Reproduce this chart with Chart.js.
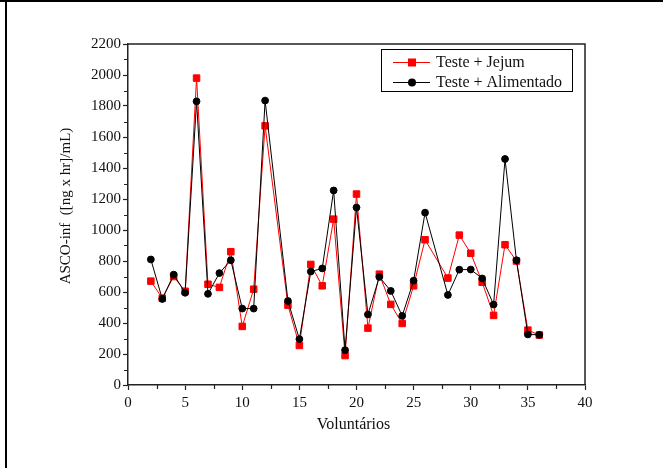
<!DOCTYPE html>
<html>
<head>
<meta charset="utf-8">
<script src="https://cdn.jsdelivr.net/npm/chart.js@4/dist/chart.umd.min.js"></script>
<style>
  html, body { margin: 0; padding: 0; background: #fff; }
  #wrap { width: 663px; height: 468px; position: relative; }
</style>
</head>
<body>
<div id="wrap"><canvas id="c" width="663" height="468"></canvas></div>
<script>
// Volunteers (x) and ASCO-inf values for the two conditions
const volunteers = [2, 3, 4, 5, 6, 7, 8, 9, 10, 11, 12, 14, 15, 16, 17, 18, 19, 20, 21, 22, 23, 24, 25, 26, 28, 29, 30, 31, 32, 33, 34, 35, 36];
const jejum = [670, 560, 700, 605, 1980, 650, 630, 860, 378, 618, 1672, 515, 255, 778, 640, 1070, 190, 1232, 367, 715, 520, 397, 640, 937, 690, 967, 850, 663, 449, 905, 800, 354, 322];
const alimentado = [810, 555, 712, 595, 1830, 588, 722, 805, 493, 493, 1835, 542, 296, 732, 752, 1255, 225, 1145, 455, 697, 607, 446, 673, 1112, 581, 744, 745, 687, 519, 1458, 805, 326, 324];

const seriesNames = ['Teste + Jejum', 'Teste + Alimentado'];
const xTitle = 'Voluntários';
const yTitle = 'ASCO-inf  ([ng x hr]/mL)';
const xMinorTicks = [2.5, 7.5, 12.5, 17.5, 22.5, 27.5, 32.5, 37.5];
const yMinorTicks = [100, 300, 500, 700, 900, 1100, 1300, 1500, 1700, 1900, 2100];

const FONT = '"Liberation Serif", "Times New Roman", serif';
const AXIS = '#222';

const toPoints = (vals) => volunteers.map((v, i) => ({ x: v, y: vals[i] }));

const frame = {
  id: 'frame',
  beforeDraw(chart) {
    const ctx = chart.ctx;
    ctx.save();
    ctx.fillStyle = '#fff';
    ctx.fillRect(0, 0, chart.width, chart.height);
    // page border (left and top)
    ctx.fillStyle = '#000';
    ctx.fillRect(5, 0, 2, chart.height);
    ctx.fillRect(0, 0, chart.width, 2);
    ctx.restore();
  },
  afterDraw(chart) {
    const ctx = chart.ctx;
    const a = chart.chartArea;
    const xs = chart.scales.x, ys = chart.scales.y;
    ctx.save();
    // top and right edges of the plot box
    ctx.strokeStyle = AXIS;
    ctx.lineWidth = 1.5;
    ctx.beginPath();
    ctx.moveTo(a.left, a.top);
    ctx.lineTo(a.right, a.top);
    ctx.lineTo(a.right, a.bottom);
    ctx.stroke();
    // minor ticks
    ctx.lineWidth = 1.2;
    ctx.beginPath();
    xMinorTicks.forEach(v => {
      const px = Math.round(xs.getPixelForValue(v)) + 0.5;
      ctx.moveTo(px, a.bottom);
      ctx.lineTo(px, a.bottom + 4);
    });
    yMinorTicks.forEach(v => {
      const py = Math.round(ys.getPixelForValue(v)) + 0.5;
      ctx.moveTo(a.left, py);
      ctx.lineTo(a.left - 4, py);
    });
    ctx.stroke();

    // axis titles
    ctx.fillStyle = '#111';
    ctx.textAlign = 'center';
    ctx.textBaseline = 'middle';
    ctx.font = '16px ' + FONT;
    ctx.fillText(xTitle, (a.left + a.right) / 2 - 3, 425);
    ctx.save();
    ctx.translate(66, 206);
    ctx.rotate(-Math.PI / 2);
    ctx.font = '15px ' + FONT;
    ctx.fillText(yTitle, 0, 0);
    ctx.restore();

    // legend
    const lx = 381.5, ly = 49.5, lw = 191, lh = 42;
    ctx.strokeStyle = '#000';
    ctx.lineWidth = 1;
    ctx.strokeRect(lx, ly, lw, lh);
    const rows = [62, 82];
    chart.data.datasets.forEach((ds, i) => {
      const y = rows[i];
      ctx.strokeStyle = ds.borderColor;
      ctx.lineWidth = 1;
      ctx.beginPath();
      ctx.moveTo(393, y + 0.5);
      ctx.lineTo(430, y + 0.5);
      ctx.stroke();
      ctx.fillStyle = ds.pointBackgroundColor;
      if (ds.pointStyle === 'rect') {
        ctx.fillRect(412 - 4, y - 3.5, 8, 8);
      } else {
        ctx.beginPath();
        ctx.arc(412, y + 0.5, 4, 0, Math.PI * 2);
        ctx.fill();
      }
      ctx.fillStyle = '#111';
      ctx.textAlign = 'left';
      ctx.textBaseline = 'middle';
      ctx.font = '16px ' + FONT;
      ctx.fillText(ds.label, 436, y + 1);
    });
    ctx.restore();
  }
};

const plainTick = (value) => String(value);

new Chart(document.getElementById('c'), {
  type: 'line',
  data: {
    datasets: [
      {
        label: seriesNames[0],
        data: toPoints(jejum),
        borderColor: '#ff0000',
        backgroundColor: '#ff0000',
        pointBackgroundColor: '#ff0000',
        pointBorderColor: '#ff0000',
        pointStyle: 'rect',
        pointRadius: 4.6,
        pointBorderWidth: 1,
        borderWidth: 1,
        tension: 0,
        order: 2
      },
      {
        label: seriesNames[1],
        data: toPoints(alimentado),
        borderColor: '#000000',
        backgroundColor: '#000000',
        pointBackgroundColor: '#000000',
        pointBorderColor: '#000000',
        pointStyle: 'circle',
        pointRadius: 3.4,
        pointBorderWidth: 1,
        borderWidth: 1,
        tension: 0,
        order: 1
      }
    ]
  },
  options: {
    responsive: false,
    animation: false,
    devicePixelRatio: 1,
    layout: { padding: { left: 0, top: 44, right: 78, bottom: 0 } },
    plugins: { legend: { display: false }, tooltip: { enabled: false } },
    scales: {
      x: {
        type: 'linear',
        min: 0, max: 40,
        afterFit: s => { s.height = 83; },
        ticks: {
          stepSize: 5, autoSkip: false, maxRotation: 0,
          padding: 4, color: '#111', callback: plainTick,
          font: { family: FONT, size: 15 }
        },
        grid: { drawOnChartArea: false, drawTicks: true, tickLength: 5, tickColor: AXIS, tickWidth: 1.2 },
        border: { display: true, color: AXIS, width: 1.5 }
      },
      y: {
        type: 'linear',
        min: 0, max: 2200,
        afterFit: s => { s.width = 128; },
        ticks: {
          stepSize: 200, autoSkip: false,
          padding: 2, color: '#111', callback: plainTick,
          font: { family: FONT, size: 15 }
        },
        grid: { drawOnChartArea: false, drawTicks: true, tickLength: 5, tickColor: AXIS, tickWidth: 1.2 },
        border: { display: true, color: AXIS, width: 1.5 }
      }
    }
  },
  plugins: [frame]
});
</script>
</body>
</html>
